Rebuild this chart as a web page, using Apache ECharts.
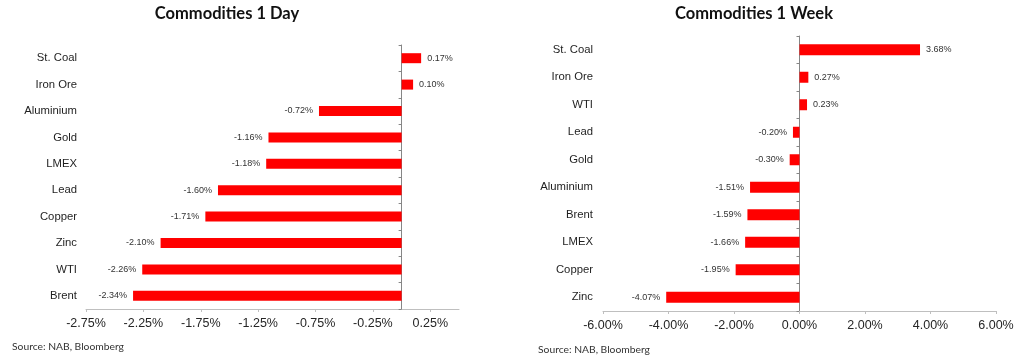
<!DOCTYPE html>
<html>
<head>
<meta charset="utf-8">
<script src="https://cdn.jsdelivr.net/npm/echarts@6/dist/echarts.min.js"></script>
<style>
html,body{margin:0;padding:0;background:#fff;}
#c{width:1024px;height:358px;}
</style>
</head>
<body>
<div id="c"></div>
<script>
const dayTitle = 'Commodities 1 Day';
const weekTitle = 'Commodities 1 Week';
const sourceText = 'Source: NAB, Bloomberg';

const dayCategories = ['St. Coal', 'Iron Ore', 'Aluminium', 'Gold', 'LMEX', 'Lead', 'Copper', 'Zinc', 'WTI', 'Brent'];
const dayValues = [0.17, 0.10, -0.72, -1.16, -1.18, -1.60, -1.71, -2.10, -2.26, -2.34];

const weekCategories = ['St. Coal', 'Iron Ore', 'WTI', 'Lead', 'Gold', 'Aluminium', 'Brent', 'LMEX', 'Copper', 'Zinc'];
const weekValues = [3.68, 0.27, 0.23, -0.20, -0.30, -1.51, -1.59, -1.66, -1.95, -4.07];

const dayAxis = { min: -2.75, max: 0.5, interval: 0.5 };
const weekAxis = { min: -6, max: 6, interval: 2 };

const chart = echarts.init(document.getElementById('c'), null, { renderer: 'canvas' });

function pct(v) { return v.toFixed(2) + '%'; }

function barData(values) {
  return values.map(v => ({
    value: v,
    label: { position: v >= 0 ? 'right' : 'left' }
  }));
}

function xAxisCfg(gridIndex, ax, showMax) {
  return {
    type: 'value', gridIndex: gridIndex,
    min: ax.min, max: ax.max, interval: ax.interval,
    splitLine: { show: false },
    axisLine: { show: true, onZero: false, lineStyle: { color: '#bfbfbf', width: 1 } },
    axisTick: { show: true, length: 3, lineStyle: { color: '#bfbfbf' } },
    axisLabel: {
      show: true, margin: 8, showMaxLabel: showMax, showMinLabel: true,
      fontFamily: 'Liberation Sans, Arial, sans-serif', fontSize: 12.5, color: '#262626',
      formatter: pct
    }
  };
}

function labelYAxis(gridIndex, cats, margin) {
  return {
    type: 'category', gridIndex: gridIndex, data: cats, inverse: true, position: 'left',
    axisLine: { show: false, onZero: false },
    axisTick: { show: false },
    axisLabel: { margin: margin, fontFamily: 'Liberation Sans, Arial, sans-serif', fontSize: 11.3, color: '#1f1f1f' }
  };
}

function zeroYAxis(gridIndex, cats) {
  return {
    type: 'category', gridIndex: gridIndex, data: cats, inverse: true, position: 'right',
    axisLine: { show: true, onZero: true, lineStyle: { color: '#868686', width: 1 } },
    axisTick: { show: true, inside: true, length: 3, lineStyle: { color: '#868686' } },
    axisLabel: { show: false }
  };
}

function series(xIdx, yIdx, values, bw) {
  return {
    type: 'bar', xAxisIndex: xIdx, yAxisIndex: yIdx,
    data: barData(values), barWidth: bw,
    itemStyle: { color: '#ff0000' },
    label: {
      show: true, distance: 6,
      fontFamily: 'Liberation Sans, Arial, sans-serif', fontSize: 9, color: '#333333',
      formatter: p => pct(p.value)
    },
    animation: false
  };
}

const titleStyle = { fontFamily: 'Lato, Open Sans, sans-serif', fontWeight: 'bold', fontSize: 16.5, color: '#111' };
const sourceStyle = { fontFamily: 'Lato, Open Sans, sans-serif', fontWeight: 'normal', fontSize: 10.3, color: '#333' };

chart.setOption({
  animation: false,
  backgroundColor: '#ffffff',
  title: [
    { text: dayTitle, left: 227, top: 5, padding: 0, textAlign: 'center', textStyle: titleStyle },
    { text: weekTitle, left: 754, top: 5, padding: 0, textAlign: 'center', textStyle: titleStyle },
    { text: sourceText, left: 12, top: 342, padding: 0, textStyle: sourceStyle },
    { text: sourceText, left: 538, top: 345, padding: 0, textStyle: sourceStyle }
  ],
  grid: [
    { left: 86, right: 565, top: 45, bottom: 49, containLabel: false },
    { left: 603, right: 28, top: 36, bottom: 47, containLabel: false }
  ],
  xAxis: [ xAxisCfg(0, dayAxis, false), xAxisCfg(1, weekAxis, true) ],
  yAxis: [
    labelYAxis(0, dayCategories, 9),
    zeroYAxis(0, dayCategories),
    labelYAxis(1, weekCategories, 10),
    zeroYAxis(1, weekCategories)
  ],
  series: [
    series(0, 0, dayValues, 10),
    series(1, 2, weekValues, 11)
  ]
});
</script>
</body>
</html>
